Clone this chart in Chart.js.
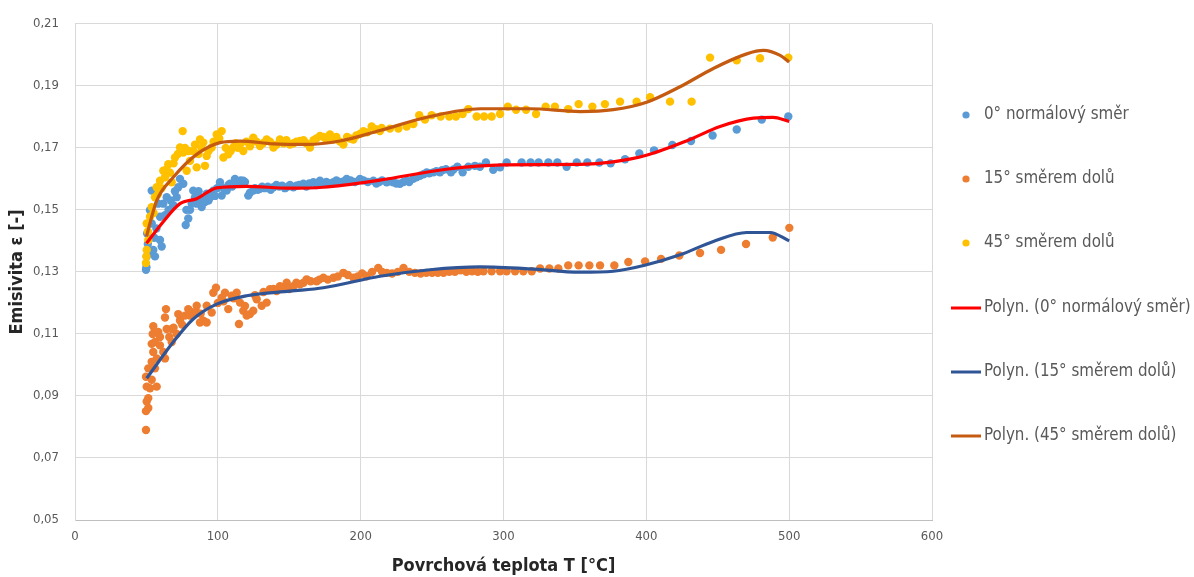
<!DOCTYPE html>
<html>
<head>
<meta charset="utf-8">
<script src="https://cdn.jsdelivr.net/npm/chart.js@4.4.1/dist/chart.umd.min.js"></script>
<style>
  html, body { margin: 0; padding: 0; background: #fff; }
  #wrap { width: 1194px; height: 577px; position: relative; }
</style>
</head>
<body>
<div id="wrap"><canvas id="c" width="1194" height="577"></canvas></div>
<script>
// Measured emissivity, [surface temperature °C, emissivity]
const series0 = [
  [49.7,0.1307],[50,0.1315],[50.2,0.1350],[50.5,0.1424],[51,0.1390],[52.5,0.1361],[52.5,0.1499],[53.7,0.1456],
  [53.7,0.1562],[54.8,0.1371],[55.5,0.1410],[56,0.1350],[57,0.1440],[58.3,0.1520],[59.5,0.1403],[59.5,0.1478],
  [60.7,0.1382],[61.8,0.1520],[63,0.1483],[64.2,0.1541],[65.5,0.1500],[67,0.1530],[68.8,0.1515],[70,0.1560],
  [71.2,0.1541],[72.3,0.1573],[73.5,0.1600],[75.8,0.1584],[77.5,0.1451],[78,0.1500],[79.3,0.1472],[80.5,0.1500],
  [81.7,0.1520],[82.8,0.1562],[84,0.1540],[85.2,0.1520],[86.5,0.1560],[87.5,0.1541],[88.7,0.1509],[90,0.1530],
  [91,0.1525],[92.2,0.1552],[93.5,0.1530],[94.5,0.1541],[95.5,0.1555],[96.8,0.1562],[98,0.1545],[99.5,0.1570],
  [101.5,0.1589],[102.7,0.1546],[104,0.1570],[106.2,0.1562],[107.5,0.1580],[108.5,0.1584],[110,0.1575],[112,0.1600],
  [113,0.1590],[114.3,0.1584],[116,0.1595],[117.8,0.1594],[119,0.1590],[121.3,0.1546],[122.5,0.1555],[124.8,0.1562],
  [126,0.1570],[128,0.1565],[129.5,0.1568],[131,0.1575],[133,0.1570],[135,0.1575],[137,0.1565],[138.9,0.1573],
  [141,0.1580],[143,0.1575],[145,0.1578],[147,0.1570],[149,0.1575],[150.5,0.1580],[152.9,0.1573],[155,0.1578],
  [157,0.1580],[159.9,0.1584],[162,0.1575],[164,0.1585],[166.9,0.1589],[169,0.1580],[171.5,0.1594],[174,0.1585],
  [176,0.1590],[178,0.1585],[180.9,0.1589],[183,0.1595],[185,0.1590],[188,0.1592],[190.2,0.1600],[193,0.1595],
  [196,0.1590],[199.5,0.1600],[202,0.1595],[205,0.1590],[208.9,0.1594],[211,0.1585],[213,0.1590],[215,0.1595],
  [218.2,0.1589],[220,0.1592],[222.8,0.1589],[225,0.1585],[227.5,0.1584],[230,0.1590],[232.2,0.1594],[234,0.1590],
  [236.8,0.1600],[239,0.1605],[241.5,0.1610],[244,0.1615],[246.2,0.1621],[248,0.1618],[250.9,0.1621],[253,0.1625],
  [255.5,0.1621],[257,0.1628],[259.7,0.1631],[263.2,0.1621],[265,0.1630],[267.7,0.1639],[271.4,0.1621],[275.4,0.1639],
  [280,0.1642],[283.5,0.1639],[287.7,0.1653],[292.8,0.1629],[297.6,0.1637],[302.2,0.1653],[312.7,0.1653],[319,0.1653],
  [324.6,0.1653],[331.4,0.1653],[337.7,0.1653],[344.2,0.1639],[351.3,0.1653],[358.7,0.1653],[367.1,0.1653],[375,0.1650],
  [385.1,0.1663],[395.1,0.1682],[405.4,0.1692],[418.2,0.1709],[431.3,0.1722],[446.4,0.1740],[463.3,0.1759],[480.8,0.1791],
  [499.4,0.1801]
];

const series15 = [
  [49.7,0.0790],[49.7,0.0851],[50.2,0.0882],[51.3,0.0861],[51.3,0.0893],[50.2,0.0930],[52.5,0.0925],[57.2,0.0930],
  [53.7,0.0952],[49.7,0.0962],[51.3,0.0989],[56,0.0989],[53.7,0.1010],[57.2,0.1021],[54.8,0.1042],[53.7,0.1068],
  [56,0.1074],[59.5,0.1063],[63,0.1021],[61.8,0.1042],[54.4,0.1100],[54.8,0.1125],[58.3,0.1106],[59.5,0.1090],
  [64.2,0.1116],[63,0.1153],[63.7,0.1180],[66,0.1090],[67.7,0.1116],[67.7,0.1074],[69,0.1120],[71.2,0.1100],
  [72.3,0.1164],[73.5,0.1143],[75,0.1130],[77,0.1159],[79.3,0.1180],[80.5,0.1159],[82,0.1170],[85.2,0.1169],
  [85.2,0.1191],[87.5,0.1137],[88,0.1165],[89.8,0.1143],[92.2,0.1137],[92.2,0.1191],[95.7,0.1169],[96.8,0.1233],
  [98.7,0.1249],[100,0.1200],[102.7,0.1217],[104,0.1205],[105,0.1233],[107.3,0.1180],[109.7,0.1223],[111,0.1215],
  [113.2,0.1233],[114.8,0.1132],[115.5,0.1201],[117.8,0.1175],[119,0.1190],[120.2,0.1159],[122.5,0.1164],[124.8,0.1175],
  [126,0.1225],[127.2,0.1212],[130.7,0.1191],[132,0.1235],[134.2,0.1201],[136.5,0.1244],[139,0.1245],[141.2,0.1238],
  [143.5,0.1254],[145,0.1250],[148.2,0.1265],[150,0.1245],[152.9,0.1254],[155,0.1265],[157.5,0.1260],[160,0.1265],
  [162.2,0.1276],[165,0.1270],[169.2,0.1270],[171,0.1275],[173.9,0.1281],[177,0.1275],[180.9,0.1281],[184,0.1285],
  [187.9,0.1297],[191,0.1290],[194.9,0.1281],[198,0.1285],[201,0.1295],[204.2,0.1286],[208,0.1300],[212.3,0.1313],
  [215,0.1300],[218.2,0.1297],[222,0.1295],[226,0.1300],[230,0.1313],[234,0.1300],[238,0.1297],[242,0.1295],
  [246,0.1297],[250,0.1297],[254,0.1297],[258,0.1297],[262,0.1300],[266,0.1300],[270,0.1305],[274,0.1300],
  [278,0.1302],[282,0.1300],[286,0.1302],[291.7,0.1302],[297.6,0.1302],[302.2,0.1302],[308.1,0.1302],[313.9,0.1302],
  [319.8,0.1302],[325.6,0.1311],[332.1,0.1311],[338.4,0.1311],[345.3,0.1321],[352.6,0.1321],[360.1,0.1321],[367.6,0.1321],
  [377.6,0.1321],[387.4,0.1332],[399.1,0.1334],[410.3,0.1342],[423.1,0.1353],[437.6,0.1361],[452.3,0.1371],[469.8,0.1390],
  [488.5,0.1411],[500.1,0.1442]
];

const series45 = [
  [49.7,0.1329],[50,0.1350],[50.2,0.1371],[51.3,0.1403],[50.2,0.1456],[51,0.1430],[52.5,0.1478],[53.7,0.1509],
  [55,0.1490],[56,0.1541],[57.2,0.1573],[58,0.1550],[59.5,0.1594],[60.5,0.1570],[61.8,0.1626],[63,0.1605],
  [64,0.1630],[65.3,0.1647],[66.5,0.1620],[67.7,0.1589],[69,0.1650],[70,0.1669],[72,0.1680],[73.5,0.1701],
  [75.4,0.1754],[75.8,0.1685],[77,0.1700],[78.2,0.1626],[79.5,0.1690],[80.5,0.1658],[82.8,0.1690],[84,0.1710],
  [85.2,0.1637],[86.5,0.1680],[87.5,0.1727],[88.5,0.1700],[89.8,0.1717],[91,0.1642],[92.2,0.1674],[93.5,0.1690],
  [95.7,0.1701],[97,0.1720],[99.2,0.1743],[101,0.1730],[102.7,0.1754],[103.9,0.1669],[105.5,0.1700],[107.3,0.1679],
  [109,0.1690],[110.8,0.1701],[112.5,0.1715],[114,0.1700],[115.5,0.1711],[117.8,0.1690],[120,0.1720],[122.5,0.1705],
  [124.8,0.1733],[127,0.1720],[129.5,0.1706],[131.5,0.1715],[134.2,0.1727],[136.5,0.1720],[138.9,0.1701],[141,0.1710],
  [143.5,0.1727],[146,0.1715],[148,0.1725],[150.5,0.1711],[153,0.1715],[155,0.1720],[157.5,0.1722],[160,0.1725],
  [162,0.1715],[164.5,0.1701],[167,0.1725],[169,0.1730],[171.5,0.1738],[174,0.1735],[176,0.1725],[178.5,0.1743],
  [180.9,0.1727],[183,0.1735],[185.5,0.1720],[187.9,0.1711],[190.5,0.1735],[192.5,0.1730],[194.9,0.1727],[197,0.1740],
  [199.5,0.1745],[201.9,0.1754],[204.5,0.1750],[207.7,0.1769],[210.5,0.1760],[213.5,0.1754],[214.7,0.1764],[220.5,0.1762],
  [226.4,0.1762],[232.2,0.1769],[236.9,0.1777],[241,0.1805],[245,0.1791],[249.7,0.1805],[256,0.1801],[262,0.1801],
  [266.7,0.1801],[271.4,0.1809],[275.4,0.1825],[281.2,0.1801],[286.4,0.1801],[291.7,0.1801],[297.6,0.1809],[303,0.1833],
  [308.8,0.1823],[315.8,0.1823],[322.8,0.1809],[329.5,0.1833],[336,0.1833],[345.3,0.1825],[352.6,0.1841],[362.2,0.1833],
  [371,0.1841],[381.6,0.1849],[393.2,0.1849],[402.6,0.1863],[416.6,0.1849],[431.7,0.1849],[444.6,0.1991],[463.3,0.1982],
  [479.6,0.1989],[499.4,0.1991]
];

// Polynomial trend curves, sampled along the fitted line
const trend0 = [
  [50,0.1392],[61.8,0.1462],[73.5,0.1520],[85.2,0.1536],[99.2,0.1571],[120,0.1576],[150.5,0.1570],[173.7,0.1573],
  [213.5,0.1596],[260,0.1631],[299.6,0.1645],[353.6,0.1647],[376.8,0.1655],[400,0.1676],[428,0.1722],[451.6,0.1769],
  [475,0.1796],[488.7,0.1798],[500,0.1785]
];
const trend15 = [
  [50.2,0.0957],[68.8,0.1074],[82.8,0.1148],[99.2,0.1196],[120.2,0.1223],[150.5,0.1238],[173.9,0.1249],[213.5,0.1286],
  [248.5,0.1307],[283.5,0.1316],[318.6,0.1310],[353.6,0.1299],[376.9,0.1302],[400.2,0.1323],[423.6,0.1355],[446.9,0.1398],
  [470.3,0.1427],[486.6,0.1427],[500,0.1400]
];
const trend45 = [
  [50,0.1414],[57.2,0.1530],[68.8,0.1605],[85.2,0.1679],[101.5,0.1717],[115.5,0.1722],[138.9,0.1713],[162.2,0.1711],
  [185.5,0.1722],[213.5,0.1756],[248.5,0.1801],[283.6,0.1826],[318.6,0.1826],[353.6,0.1817],[376.9,0.1823],[400.2,0.1847],
  [423.6,0.1897],[446.9,0.1956],[470.3,0.2003],[482,0.2014],[493.7,0.1998],[500,0.1977]
];

const seriesLabels = ['0° normálový směr', '15° směrem dolů', '45° směrem dolů'];
const trendLabels = ['Polyn. (0° normálový směr)', 'Polyn. (15° směrem dolů)', 'Polyn. (45° směrem dolů)'];

const xTickValues = [0, 100, 200, 300, 400, 500, 600];
const yTickValues = [0.05, 0.07, 0.09, 0.11, 0.13, 0.15, 0.17, 0.19, 0.21];
const yTickLabels = ['0,05', '0,07', '0,09', '0,11', '0,13', '0,15', '0,17', '0,19', '0,21'];

const pointColors = ['#5b9bd5', '#ed7d31', '#ffc000'];
const trendColors = ['#ff0000', '#2f5597', '#c55a11'];

const FONT = '"DejaVu Sans Condensed", "Liberation Sans", sans-serif';
const toXY = arr => arr.map(p => ({ x: p[0], y: p[1] }));

const scatterSet = (data, i, order) => ({
  type: 'scatter',
  label: seriesLabels[i],
  data: toXY(data),
  backgroundColor: pointColors[i],
  borderColor: pointColors[i],
  borderWidth: 0,
  pointRadius: 4.2,
  pointHoverRadius: 4.2,
  order: order
});
const trendSet = (data, i) => ({
  type: 'line',
  label: trendLabels[i],
  data: toXY(data),
  borderColor: trendColors[i],
  backgroundColor: trendColors[i],
  borderWidth: 3.2,
  pointRadius: 0,
  fill: false,
  cubicInterpolationMode: 'monotone',
  order: 0
});

// Legend drawn at the right side, one row per dataset
const sideLegend = {
  id: 'sideLegend',
  afterDraw(chart) {
    const ctx = chart.ctx;
    const rows = [115, 179, 243, 308, 372, 436];
    ctx.save();
    ctx.font = '16.8px ' + FONT;
    ctx.textBaseline = 'middle';
    ctx.fillStyle = '#595959';
    chart.data.datasets.forEach((ds, i) => {
      const y = rows[i];
      if (ds.type === 'scatter') {
        ctx.beginPath();
        ctx.fillStyle = ds.backgroundColor;
        ctx.arc(966, y, 3.6, 0, Math.PI * 2);
        ctx.fill();
      } else {
        ctx.beginPath();
        ctx.strokeStyle = ds.borderColor;
        ctx.lineWidth = 3;
        ctx.moveTo(951, y);
        ctx.lineTo(981, y);
        ctx.stroke();
      }
      ctx.fillStyle = '#595959';
      ctx.fillText(ds.label, 984, y);
    });
    ctx.restore();
  }
};

new Chart(document.getElementById('c'), {
  data: {
    datasets: [
      scatterSet(series0, 0, 3),
      scatterSet(series15, 1, 2),
      scatterSet(series45, 2, 1),
      trendSet(trend0, 0),
      trendSet(trend15, 1),
      trendSet(trend45, 2)
    ]
  },
  options: {
    responsive: false,
    devicePixelRatio: 1,
    animation: false,
    layout: { padding: { left: 0, right: 262, top: 18, bottom: 0 } },
    plugins: {
      legend: { display: false },
      tooltip: { enabled: false }
    },
    scales: {
      x: {
        type: 'linear',
        min: 0, max: 600,
        afterFit(scale) { scale.height = 57; },
        afterBuildTicks(scale) { scale.ticks = xTickValues.map(v => ({ value: v })); },
        grid: { color: '#d9d9d9', lineWidth: 1, drawTicks: false },
        border: { color: '#bfbfbf' },
        ticks: {
          padding: 9,
          color: '#595959',
          font: { family: FONT, size: 13 },
          callback: v => String(v)
        },
        title: {
          display: true,
          text: 'Povrchová teplota T [°C]',
          color: '#262626',
          font: { family: FONT, size: 18, weight: 'bold' },
          padding: { top: 0, bottom: 0 }
        }
      },
      y: {
        type: 'linear',
        min: 0.05, max: 0.21,
        afterFit(scale) { scale.width = 75; },
        afterBuildTicks(scale) { scale.ticks = yTickValues.map(v => ({ value: v })); },
        grid: { color: '#d9d9d9', lineWidth: 1, drawTicks: false },
        border: { color: '#d9d9d9' },
        ticks: {
          padding: 16,
          color: '#595959',
          font: { family: FONT, size: 13 },
          callback: (v, i) => yTickLabels[i]
        },
        title: {
          display: true,
          text: 'Emisivita ε [-]',
          color: '#262626',
          font: { family: FONT, size: 18, weight: 'bold' },
          padding: { top: 7, bottom: 0 }
        }
      }
    }
  },
  plugins: [sideLegend]
});
</script>
</body>
</html>
